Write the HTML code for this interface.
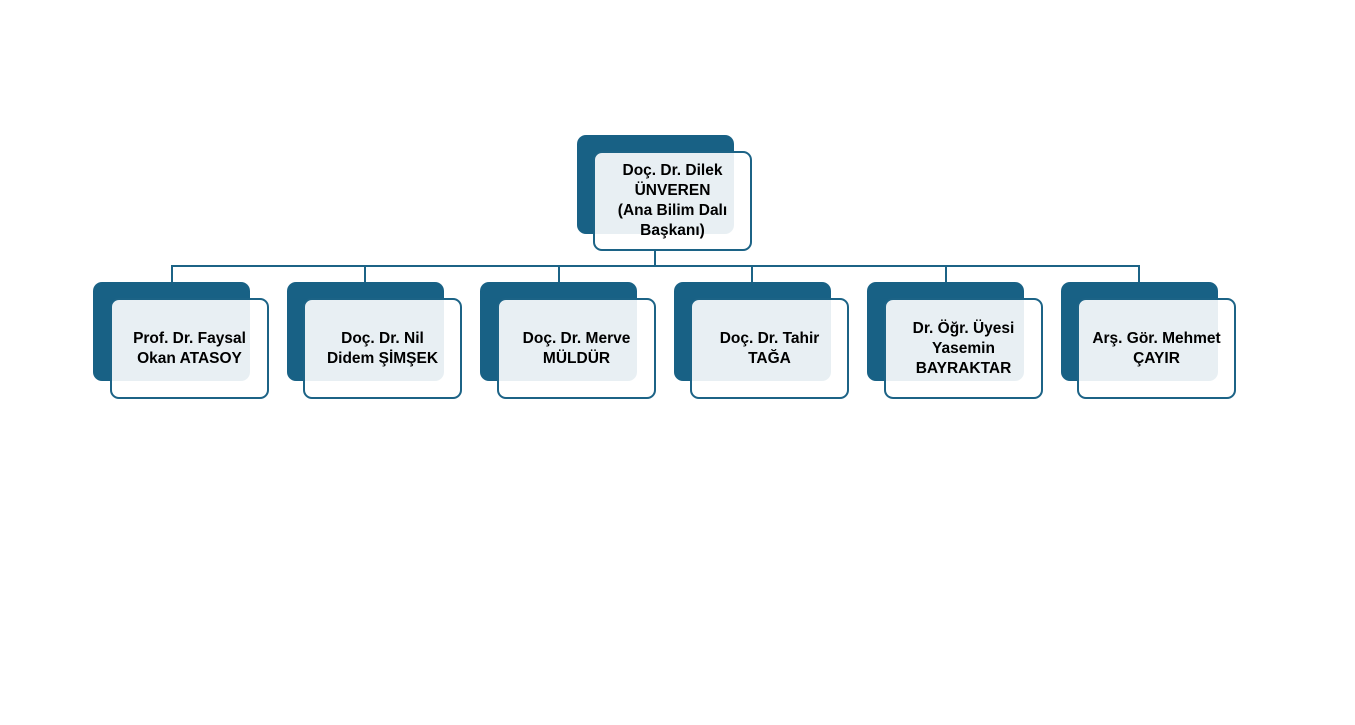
<!DOCTYPE html>
<html><head><meta charset="utf-8"><style>
body{margin:0;width:1355px;height:725px;background:#fff;position:relative;overflow:hidden;font-family:"Liberation Sans","DejaVu Sans",sans-serif}
.d{position:absolute;background:#186185;border-radius:9px}
.f{position:absolute;background:rgba(255,255,255,0.9);border:2px solid #1c6386;border-radius:9px;box-sizing:border-box;display:flex;align-items:center;justify-content:center;text-align:center;font-weight:bold;font-size:15.5px;line-height:20px;color:#000}
.l{position:absolute;background:#1c6386}
</style></head><body>
<div class="l" style="left:172px;top:265px;width:968px;height:2px"></div>
<div class="l" style="left:654px;top:250px;width:2px;height:16px"></div>
<div class="d" style="left:577px;top:135px;width:157px;height:99px"></div>
<div class="f" style="left:593px;top:151px;width:159px;height:100px">Doç. Dr. Dilek<br>ÜNVEREN<br>(Ana Bilim Dalı<br>Başkanı)</div>

<div class="l" style="left:171px;top:265px;width:2px;height:18px"></div>
<div class="d" style="left:93px;top:282px;width:157px;height:99px"></div>
<div class="f" style="left:110px;top:298px;width:159px;height:101px">Prof. Dr. Faysal<br>Okan ATASOY</div>

<div class="l" style="left:364px;top:265px;width:2px;height:18px"></div>
<div class="d" style="left:287px;top:282px;width:157px;height:99px"></div>
<div class="f" style="left:303px;top:298px;width:159px;height:101px">Doç. Dr. Nil<br>Didem ŞİMŞEK</div>

<div class="l" style="left:558px;top:265px;width:2px;height:18px"></div>
<div class="d" style="left:480px;top:282px;width:157px;height:99px"></div>
<div class="f" style="left:497px;top:298px;width:159px;height:101px">Doç. Dr. Merve<br>MÜLDÜR</div>

<div class="l" style="left:751px;top:265px;width:2px;height:18px"></div>
<div class="d" style="left:674px;top:282px;width:157px;height:99px"></div>
<div class="f" style="left:690px;top:298px;width:159px;height:101px">Doç. Dr. Tahir<br>TAĞA</div>

<div class="l" style="left:945px;top:265px;width:2px;height:18px"></div>
<div class="d" style="left:867px;top:282px;width:157px;height:99px"></div>
<div class="f" style="left:884px;top:298px;width:159px;height:101px">Dr. Öğr. Üyesi<br>Yasemin<br>BAYRAKTAR</div>

<div class="l" style="left:1138px;top:265px;width:2px;height:18px"></div>
<div class="d" style="left:1061px;top:282px;width:157px;height:99px"></div>
<div class="f" style="left:1077px;top:298px;width:159px;height:101px">Arş. Gör. Mehmet<br>ÇAYIR</div>
</body></html>
